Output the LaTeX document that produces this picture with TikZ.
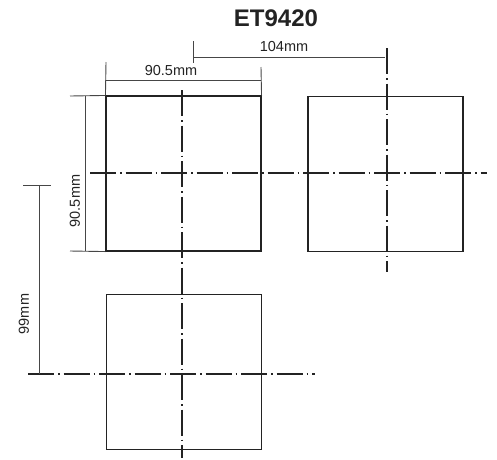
\documentclass[tikz,border=0pt]{standalone}
\usepackage{fontspec}
\setmainfont{Liberation Sans}
\usetikzlibrary{positioning, calc}
\definecolor{ink}{RGB}{35, 35, 35}
\definecolor{dimgray}{RGB}{70, 70, 70}

\begin{document}
\begin{tikzpicture}[
    x=1pt, y=-1pt,
    panel/.style={
        rectangle,
        draw=ink,
        line width=1.1pt,
        minimum width=155pt,
        minimum height=155pt,
        inner sep=0pt
    },
    axis/.style={
        draw=ink,
        line width=1.1pt,
        dash pattern=on 26pt off 4pt on 1.5pt off 4pt
    },
    dimline/.style={
        draw=dimgray,
        line width=0.9pt
    },
    dimtext/.style={
        text=ink,
        font=\fontsize{14.5}{16}\selectfont,
        inner sep=0pt
    }
]
\useasboundingbox (0,0) rectangle (497,459);

% Title
\node[text=ink, font=\fontsize{24}{28}\selectfont\bfseries] (title) at (276,18) {ET9420};

% Cut-out panels
\node[panel] (cutA) at (183.5,173.5) {};
\node[panel] (cutB) at (385.5,174) {};
\node[panel] (cutC) at (184,372) {};

% Centre lines
\draw[axis] (182,90) -- (182,458);
\draw[axis] (90,173) -- (487,173);
\draw[axis] (387,48) -- (387,272);
\draw[axis] (28,374) -- (315,374);

% Dimension 104mm
\draw[dimline] (193,41) -- (193,63);
\draw[dimline] (193,57) -- (385,57);
\node[dimtext] (dimB) at (284,47) {104mm};

% Dimension 90.5mm (width)
\draw[dimline] (106,62) -- (cutA.north west);
\draw[dimline] (261,67) -- (cutA.north east);
\draw[dimline] (106,80) -- (261,80);
\node[dimtext] (dimW) at (171,71) {90.5mm};

% Dimension 90.5mm (height)
\draw[dimline] (70,96) -- (cutA.north west);
\draw[dimline] (70,251) -- (cutA.south west);
\draw[dimline] (85,96) -- (85,251);
\node[dimtext, rotate=90] (dimH) at (75,201) {90.5mm};

% Dimension 99mm
\draw[dimline] (23,185) -- (51,185);
\draw[dimline] (39,185) -- (39,374);
\node[dimtext, rotate=90] (dimV) at (24,314) {99mm};

\end{tikzpicture}
\end{document}
